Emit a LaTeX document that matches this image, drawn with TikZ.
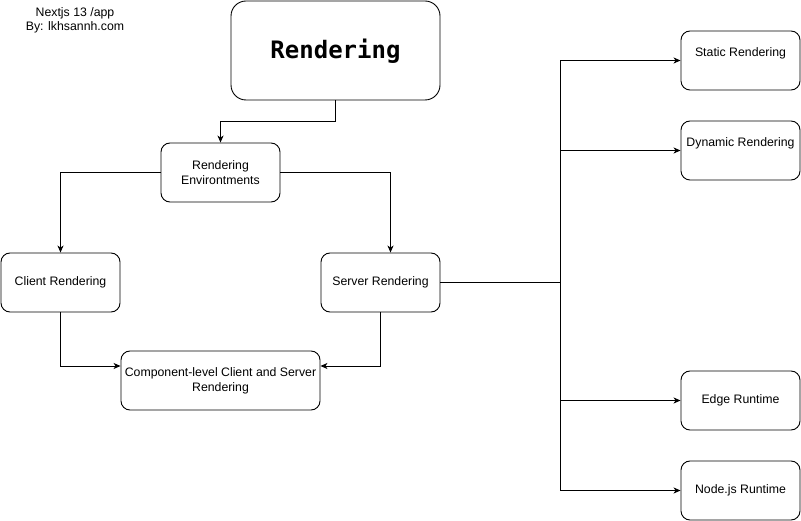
\documentclass[tikz,border=0pt]{standalone}
\usepackage{fontspec}
\setmainfont{Liberation Sans}
\newfontfamily\monob{DejaVu Sans Mono}[BoldFont={DejaVu Sans Mono Bold}]
\usetikzlibrary{arrows.meta}
\begin{document}
\begin{tikzpicture}[x=1pt,y=-1pt,
  box/.style={draw,line width=0.9pt,rounded corners=9pt,inner sep=0pt,align=center,
    font=\fontsize{12.3}{15}\selectfont},
  lbl/.style={font=\fontsize{12.3}{15}\selectfont},
  conn/.style={line width=0.9pt,-{Stealth[length=7pt,width=6pt,inset=2pt]}},
  plain/.style={line width=0.9pt}]
\useasboundingbox (0,0) rectangle (801,521);
\node[box,rounded corners=15pt,minimum width=209pt,minimum height=99pt] (R) at (335.5,50.5) {};
\node[font=\monob\bfseries\fontsize{24}{28}\selectfont] (Rt) at (335.5,51.5) {Rendering};
\node[box,minimum width=119pt,minimum height=59pt] (E) at (220.5,172.5) {Rendering\\Environtments};
\node[box,minimum width=119pt,minimum height=59pt] (C) at (60.5,282.5) {Client Rendering};
\node[box,minimum width=119pt,minimum height=59pt] (S) at (380.5,282.5) {Server Rendering};
\node[box,minimum width=199pt,minimum height=59pt] (M) at (220.5,380.5) {Component-level Client and Server\\Rendering};
\node[box,minimum width=119pt,minimum height=59pt] (ST) at (740.5,60.5) {};
\node[lbl] (STt) at (740.5,53) {Static Rendering};
\node[box,minimum width=119pt,minimum height=59pt] (DY) at (740.5,150.5) {};
\node[lbl] (DYt) at (740.5,143) {Dynamic Rendering};
\node[box,minimum width=119pt,minimum height=59pt] (ED) at (740.5,400.5) {Edge Runtime};
\node[box,minimum width=119pt,minimum height=59pt] (NJ) at (740.5,490.5) {Node.js Runtime};
\node[align=center,font=\fontsize{12.3}{14}\selectfont] (T) at (75,20) {Nextjs 13 /app\\By: lkhsannh.com};
% connectors
\coordinate (j1) at (560,282.5);
\draw[conn] (R.south) |- (220.5,121) -- (E.north);
\draw[conn] (E.west) -| (C.north);
\draw[conn] (E.east) -| ([xshift=10pt]S.north);
\draw[conn] (C.south) |- ([yshift=14.5pt]M.west);
\draw[conn] ([xshift=-0.5pt]S.south) |- ([yshift=14.5pt]M.east);
\draw[plain] (S.east) -- (j1);
\draw[conn] (j1) |- (ST.west);
\draw[conn] (j1) |- (DY.west);
\draw[conn] (j1) |- (ED.west);
\draw[conn] (j1) |- (NJ.west);
\end{tikzpicture}
\end{document}
